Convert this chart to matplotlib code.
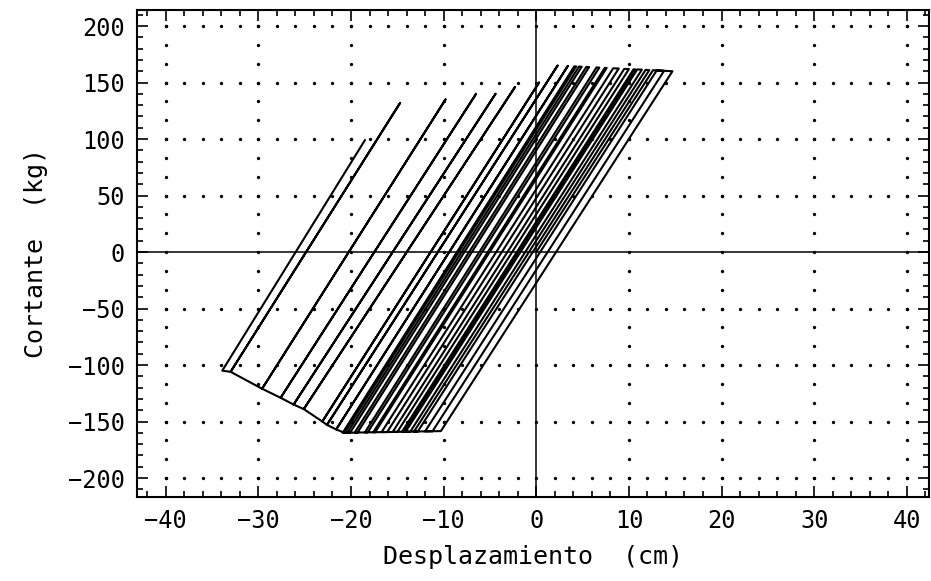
import numpy as np
import matplotlib
matplotlib.use('Agg')
import matplotlib.pyplot as plt
from matplotlib.ticker import MultipleLocator

# Puntos de inversión de la respuesta histerética (desplazamiento en cm, cortante en kg)
disp = [0.0, 12.6, 14.7, -10.3, -12.0, 13.0, 13.8, -11.2, -13.2, 11.8,
        12.2, -12.8, -14.1, 10.9, 11.4, -13.6, -14.5, 10.5, 10.7, -14.3,
        -15.5, 9.5, 10.0, -15.0, -16.7, 8.3, 8.9, -16.1, -17.6, 7.4,
        7.6, -17.4, -18.5, 6.5, 6.8, -18.2, -19.6, 5.4, 5.7, -19.3,
        -20.4, 4.6, 4.9, -20.1, -20.9, 4.1, 4.3, -20.7, -21.6, 3.4,
        -21.6, -22.6, 2.3, -22.6, -23.1, 0.3, -23.1, -25.1, -2.3, -25.1,
        -26.2, -4.4, -26.2, -27.6, -6.5, -27.6, -29.6, -9.8, -29.6, -33.0,
        -14.7, -33.0, -33.9, -18.5]
force = [0.0, 160.9, 160.0, -158.5, -158.7, 160.7, 160.4, -158.6, -158.9, 161.2,
         161.0, -158.9, -159.0, 161.6, 161.4, -159.0, -159.1, 161.7, 161.6, -159.0,
         -159.2, 162.1, 161.9, -159.2, -159.4, 162.6, 162.4, -159.3, -159.5, 163.0,
         162.9, -159.5, -159.6, 163.4, 163.2, -159.6, -159.8, 163.8, 163.7, -159.8,
         -159.9, 164.1, 164.0, -159.9, -160.0, 164.3, 164.3, -160.0, -157.0, 164.6,
         -157.0, -153.0, 165.0, -153.0, -150.0, 150.0, -150.0, -139.0, 146.0, -139.0,
         -135.0, 140.0, -135.0, -129.0, 140.0, -129.0, -121.0, 135.0, -121.0, -106.0,
         132.0, -106.0, -105.0, 99.0]

x_ticks = [-40, -30, -20, -10, 0, 10, 20, 30, 40]
y_ticks = [-200, -150, -100, -50, 0, 50, 100, 150, 200]

plt.rcParams['font.family'] = ['DejaVu Sans Mono']

fig = plt.figure(figsize=(9.31, 5.81), dpi=100)
ax = fig.add_axes([0.1472, 0.1446, 0.8507, 0.8382])
ax.set_xlim(-43.1, 42.4)
ax.set_ylim(-216.8, 214.2)

# rejilla punteada sobre las divisiones principales
for xv in x_ticks:
    if xv == 0:
        continue
    yy = np.arange(-200, 200.1, 50 / 3)
    ax.plot(np.full_like(yy, xv), yy, ls='none', marker='o', ms=2.4,
            color='black', mec='none')
for yv in y_ticks:
    if yv == 0:
        continue
    xx = np.arange(-40, 40.1, 2)
    ax.plot(xx, np.full_like(xx, yv), ls='none', marker='o', ms=2.4,
            color='black', mec='none')

# ejes en el origen
ax.axhline(0, color='black', lw=1.1)
ax.axvline(0, color='black', lw=1.1)

# ciclos de histéresis
ax.plot(disp, force, color='black', lw=1.5, solid_joinstyle='round')

ax.set_xticks(x_ticks)
ax.set_yticks(y_ticks)
ax.xaxis.set_minor_locator(MultipleLocator(2))
ax.yaxis.set_minor_locator(MultipleLocator(10))
ax.tick_params(which='both', direction='in', top=True, right=True,
               width=1.2, labelsize=17)
ax.tick_params(which='major', length=8)
ax.tick_params(which='minor', length=4)
ax.tick_params(axis='x', pad=9)
ax.tick_params(axis='y', pad=9)
for sp in ax.spines.values():
    sp.set_linewidth(1.5)

ax.set_xlabel('Desplazamiento  (cm)', fontsize=18, labelpad=8)
ax.set_ylabel('Cortante  (kg)', fontsize=18, labelpad=14)

fig.savefig('out.png', dpi=100)
